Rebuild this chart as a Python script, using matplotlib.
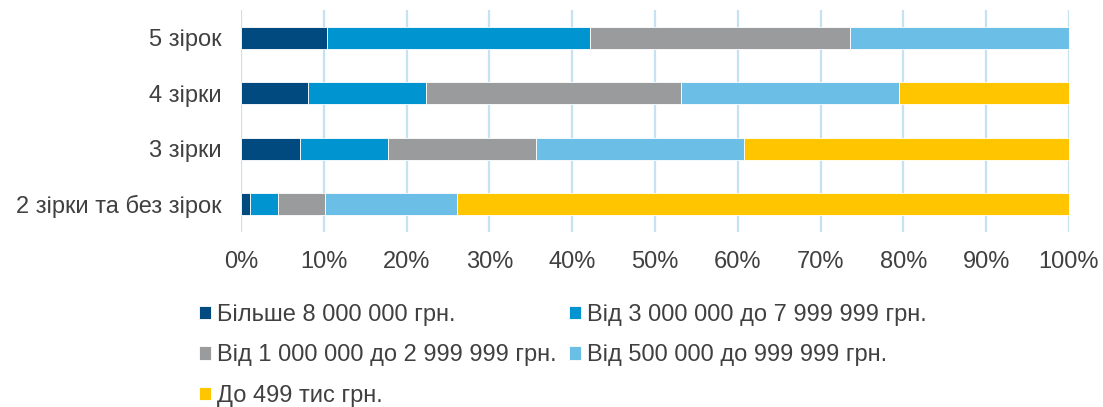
import matplotlib
matplotlib.use("Agg")
import matplotlib.pyplot as plt
import numpy as np

plt.rcParams['font.family'] = ['Liberation Sans', 'DejaVu Sans']

categories = ["2 зірки та без зірок", "3 зірки", "4 зірки", "5 зірок"]
series_names = ["Більше 8 000 000 грн.", "Від 3 000 000 до 7 999 999 грн.",
                "Від 1 000 000 до 2 999 999 грн.", "Від 500 000 до 999 999 грн.",
                "До 499 тис грн."]
s_over8m = [1.1, 7.1, 8.1, 10.4]
s_3to8m = [3.4, 10.7, 14.3, 31.7]
s_1to3m = [5.7, 17.8, 30.7, 31.5]
s_500kto1m = [15.9, 25.1, 26.4, 26.4]
s_under500k = [73.9, 39.3, 20.5, 0.0]
series = [s_over8m, s_3to8m, s_1to3m, s_500kto1m, s_under500k]
colors = ["#004A80", "#0094D0", "#9A9B9D", "#6BBFE6", "#FFC600"]
xticks = [0, 10, 20, 30, 40, 50, 60, 70, 80, 90, 100]
xticklabels = [f"{v}%" for v in xticks]

text_color = "#404040"
fs = 17
fig = plt.figure(figsize=(11.03, 4.07), dpi=100)
ax = fig.add_axes([241/1103, 1-232/407, (1069-241)/1103, 222/407])

y = np.arange(len(categories))
left = np.zeros(len(categories))
handles = []
for vals, name, c in zip(series, series_names, colors):
    v = np.array(vals)
    h = ax.barh(y, v, left=left, height=0.4, color=c, edgecolor="white",
                linewidth=0.6, label=name, zorder=3)
    handles.append(h)
    left += v

ax.set_xlim(0, 100)
ax.set_ylim(-0.5, len(categories) - 0.5)
ax.set_xticks(xticks)
ax.set_xticklabels(xticklabels, fontsize=fs, color=text_color)
ax.set_yticks(y)
ax.set_yticklabels(categories, fontsize=fs, color=text_color)
ax.tick_params(axis='y', length=0, pad=14)
ax.tick_params(axis='x', length=0, pad=14)
ax.xaxis.grid(True, color="#C5E2F3", linewidth=1.6, zorder=0)
for s in ax.spines.values():
    s.set_visible(False)

order = [0, 2, 4, 1, 3]
leg = fig.legend([handles[i] for i in order], [series_names[i] for i in order],
                 ncol=2, loc="upper left", bbox_to_anchor=(199/1103, 1-304/407),
                 frameon=False, fontsize=fs, handlelength=0.5, handleheight=0.5,
                 handletextpad=0.25, columnspacing=0.55, labelspacing=0.78,
                 borderaxespad=0, borderpad=0)
for t in leg.get_texts():
    t.set_color(text_color)

fig.savefig("out.png", dpi=100)
